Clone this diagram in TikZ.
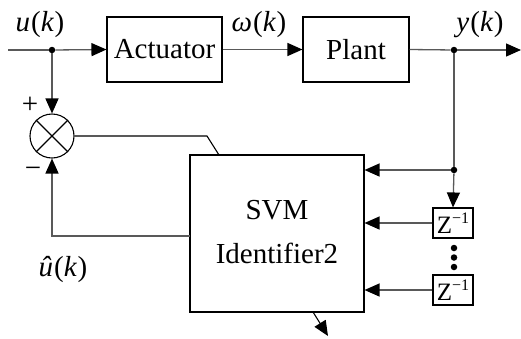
\documentclass[tikz,border=0pt]{standalone}
\usepackage{fontspec}
\setmainfont{Liberation Serif}
\usetikzlibrary{arrows.meta}
\begin{document}
\begin{tikzpicture}[x=1pt,y=-1pt,
  blk/.style={draw=black,line width=1.1pt,inner sep=0pt,font=\fontsize{29}{33}\selectfont},
  zbox/.style={draw=black,line width=1.1pt,inner sep=0pt,minimum width=40pt,minimum height=30pt,font=\fontsize{25}{28}\selectfont},
  con/.style={draw=black!65,line width=1.3pt},
  arr/.style={con,-{Triangle[length=15pt,width=13pt,color=black]}},
  lab/.style={font=\fontsize{29}{33}\selectfont,inner sep=0pt,anchor=base},
  dotc/.style={fill=black,circle,inner sep=0pt,minimum size=6.5pt}]
\useasboundingbox (0,0) rectangle (521,338);
\node[blk,minimum width=115pt,minimum height=65pt] (act) at (164.5,49.5) {Actuator};
\node[blk,minimum width=106pt,minimum height=65pt] (plant) at (356,49.5) {Plant};
\node[blk,minimum width=174pt,minimum height=157pt,align=center] (svm) at (277,233.5) {};
\node[lab] (svmt1) at (277,219) {SVM};
\node[lab] (svmt2) at (277,263) {Identifier2};
\node[draw=black,line width=1.1pt,circle,minimum size=44pt,inner sep=0pt] (sum) at (52,136) {};
\draw[line width=1.1pt] (sum.north east) -- (sum.south west) (sum.north west) -- (sum.south east);
\node[zbox] (z1) at (453,223) {Z\raisebox{0.42em}{\fontsize{16}{16}\selectfont −1}};
\node[zbox] (z2) at (453,290) {Z\raisebox{0.42em}{\fontsize{16}{16}\selectfont −1}};
\coordinate (in) at (8,50);
\node[dotc] (j1) at (52,50) {};
\node[dotc] (j2) at (454,50) {};
\coordinate (out) at (521,50);
\node[dotc] (j3) at (454,170) {};
\coordinate (d1) at (207,136);
\coordinate (d2) at (219,155);
\coordinate (d3) at (313,312);
\coordinate (d4) at (328,336);
\coordinate (fb) at (190,236);
% connectors
\draw[con] (in) -- (j1);
\draw[arr] (j1) -- (act.west);
\draw[arr] (act.east) -- (plant.west);
\draw[con] (plant.east) -- (j2);
\draw[arr] (j2) -- (out);
\draw[arr] (j1) -- (sum.north);
\draw[con] (j2) -- (j3);
\draw[arr] (j3) -- (z1.north);
\draw[arr] (j3) -- (svm.east |- j3);
\draw[arr] (z1.west) -- (svm.east |- z1.west);
\draw[arr] (z2.west) -- (svm.east |- z2.west);
\draw[con,draw=black,line width=1.1pt] (sum.east) -- (d1) -- (d2);
\draw[arr,draw=black,line width=1.1pt] (d3) -- (d4);
\draw[arr] (fb) -| (sum.south);
% dots
\node[dotc] (v1) at (454,248) {};
\node[dotc] (v2) at (454,257.5) {};
\node[dotc] (v3) at (454,267) {};
% labels
\node[lab] (lu) at (40,31) {\textit{u\kern1pt}(\textit{k\kern1pt})};
\node[lab] (lw) at (259,31) {\textit{ω\kern1pt}(\textit{k\kern1pt})};
\node[lab] (ly) at (480,31) {\textit{y\kern1pt}(\textit{k\kern1pt})};
\node[lab] (luh) at (63,276) {\textit{û\kern1pt}(\textit{k\kern1pt})};
\node[lab] (lp) at (30,113) {+};
\node[lab] (lm) at (33,177) {−};
\end{tikzpicture}
\end{document}
